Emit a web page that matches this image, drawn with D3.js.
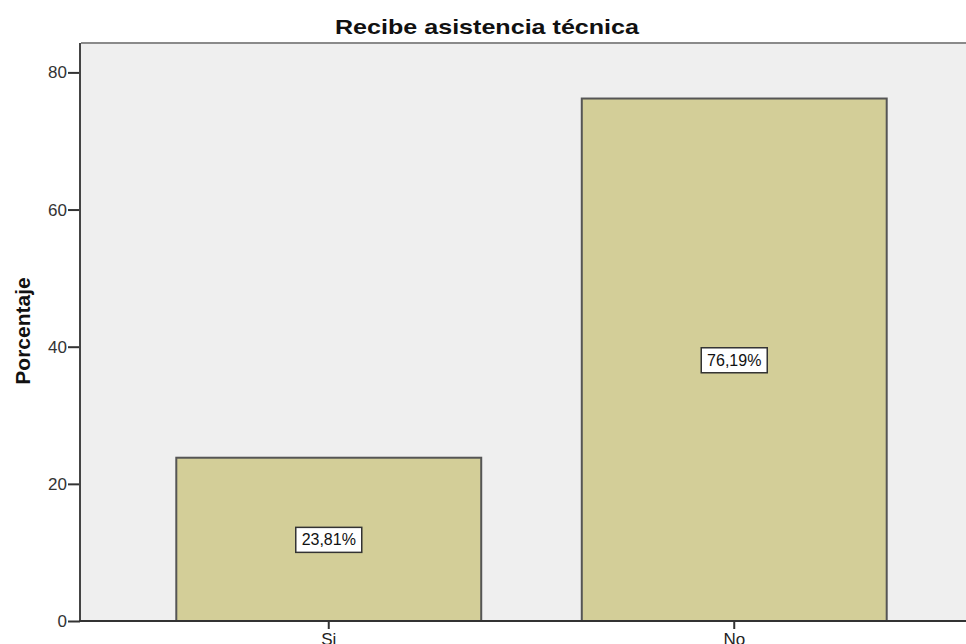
<!DOCTYPE html>
<html>
<head>
<meta charset="utf-8">
<script src="https://cdn.jsdelivr.net/npm/d3@7"></script>
<style>
  body { margin: 0; background: #fff; }
  svg { display: block; font-family: Arial, "Liberation Sans", sans-serif; }
</style>
</head>
<body>
<svg id="chart"></svg>
<script>
const categories = ["Si", "No"];
const percents = [23.81, 76.19];
const barLabels = ["23,81%", "76,19%"];
const yTicks = [0, 20, 40, 60, 80];

const width = 966, height = 644;
const plot = {left: 81, right: 982, top: 43, bottom: 621};
const fontFam = "Arial, 'Liberation Sans', sans-serif";

const svg = d3.select("#chart").attr("width", width).attr("height", height);

const x = d3.scaleBand().domain(categories)
            .range([plot.left, plot.right])
            .paddingInner(0.248).paddingOuter(0.235);
const y = d3.scaleLinear().domain([0, 80]).range([plot.bottom, 72.4]);

// plot background
svg.append("rect")
   .attr("x", plot.left).attr("y", plot.top)
   .attr("width", plot.right - plot.left).attr("height", plot.bottom - plot.top)
   .style("fill", "#efefef");
svg.append("line")
   .attr("x1", plot.left).attr("x2", plot.right)
   .attr("y1", plot.top).attr("y2", plot.top)
   .style("stroke", "#8a8a8a").style("stroke-width", 2);

// bars
const data = categories.map((c, i) => ({cat: c, val: percents[i], label: barLabels[i]}));
svg.selectAll("rect.bar")
   .data(data)
   .join("rect")
   .attr("class", "bar")
   .attr("x", d => x(d.cat))
   .attr("y", d => y(d.val))
   .attr("width", x.bandwidth())
   .attr("height", d => y(0) - y(d.val))
   .style("fill", "#d3ce98")
   .style("stroke", "#555")
   .style("stroke-width", 2);

// value labels
const lab = svg.selectAll("g.vlabel")
   .data(data)
   .join("g")
   .attr("class", "vlabel")
   .attr("transform", d => `translate(${x(d.cat) + x.bandwidth() / 2}, ${(y(d.val) + y(0)) / 2})`);
lab.append("rect")
   .attr("x", -33).attr("y", -12).attr("width", 66).attr("height", 25)
   .style("fill", "#fff").style("stroke", "#333").style("stroke-width", 1.5);
lab.append("text")
   .text(d => d.label)
   .attr("text-anchor", "middle")
   .attr("dy", "0.36em")
   .style("font-size", "16px")
   .style("fill", "#111");

// y axis
const yAxis = svg.append("g")
   .attr("transform", `translate(${plot.left - 1},0)`)
   .call(d3.axisLeft(y).tickValues(yTicks).tickSize(12).tickPadding(1).tickSizeOuter(0));
yAxis.select(".domain").remove();
yAxis.selectAll(".tick line").style("stroke", "#333").style("stroke-width", 2);
yAxis.selectAll(".tick text").style("font-size", "17px").style("fill", "#333")
     .style("font-family", fontFam);
svg.append("line")
   .attr("x1", plot.left - 1).attr("x2", plot.left - 1)
   .attr("y1", plot.top).attr("y2", plot.bottom + 1)
   .style("stroke", "#444").style("stroke-width", 2);

// x axis
const xAxis = svg.append("g")
   .attr("transform", `translate(0,${plot.bottom})`)
   .call(d3.axisBottom(x).tickSize(8).tickPadding(4).tickSizeOuter(0));
xAxis.select(".domain").remove();
xAxis.selectAll(".tick line").style("stroke", "#333").style("stroke-width", 2);
xAxis.selectAll(".tick text").style("font-size", "17px").style("fill", "#222")
     .style("font-family", fontFam);
svg.append("line")
   .attr("x1", plot.left - 2).attr("x2", plot.right)
   .attr("y1", plot.bottom).attr("y2", plot.bottom)
   .style("stroke", "#333").style("stroke-width", 2);

// title and axis title
svg.append("text")
   .text("Recibe asistencia técnica")
   .attr("x", 335).attr("y", 34)
   .attr("textLength", 304).attr("lengthAdjust", "spacingAndGlyphs")
   .style("font-size", "21px").style("font-weight", "bold").style("fill", "#111");

svg.append("text")
   .text("Porcentaje")
   .attr("transform", "translate(30, 331) rotate(-90)")
   .attr("text-anchor", "middle")
   .style("font-size", "21px").style("font-weight", "bold").style("fill", "#111");
</script>
</body>
</html>
